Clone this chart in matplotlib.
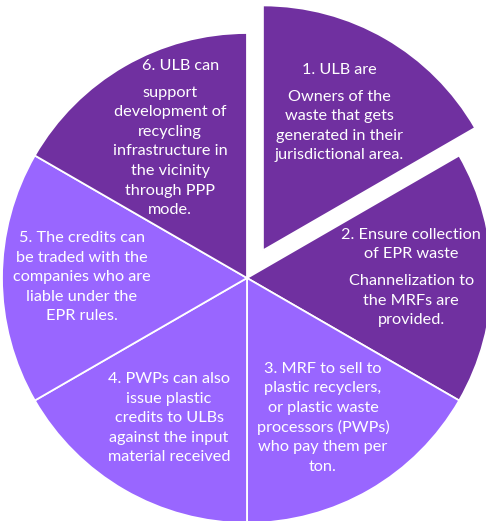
import matplotlib.pyplot as plt

# slice data (six equal steps of the cycle)
values = [1, 1, 1, 1, 1, 1]
colors = ['#7030A0', '#7030A0', '#9966FF', '#9966FF', '#9966FF', '#7030A0']
explode = [0.13, 0, 0, 0, 0, 0]

headers = [
    ['1. ULB are'],
    ['2. Ensure collection', 'of EPR waste'],
    ['3. MRF to sell to', 'plastic recyclers,', 'or plastic waste',
     'processors (PWPs)', 'who pay them per', 'ton.'],
    ['4. PWPs can also', 'issue plastic', 'credits to ULBs',
     'against the input', 'material received'],
    ['5. The credits can', 'be traded with the', 'companies who are',
     'liable under the', 'EPR rules.'],
    ['6. ULB can'],
]
bodies = [
    ['Owners of the', 'waste that gets', 'generated in their',
     'jurisdictional area.'],
    ['Channelization to', 'the MRFs are', 'provided.'],
    [], [], [],
    ['support', 'development of', 'recycling', 'infrastructure in',
     'the vicinity', 'through PPP', 'mode.'],
]

# label anchors (x, y of first line centre, in pie radius units)
anchors = [(0.376, 0.849), (0.67, 0.176), (0.310, -0.37),
           (-0.318, -0.412), (-0.674, 0.163), (-0.269, 0.865)]
body_x = [0.376, 0.67, 0, 0, 0, -0.314]

W, H = 486, 521
R = 245.0
cx, cy = 247, 278

fig = plt.figure(figsize=(W / 100, H / 100), dpi=100)
ax = fig.add_axes([0, 0, 1, 1])
ax.pie(values, colors=colors, explode=explode, startangle=90,
       counterclock=False, radius=1,
       wedgeprops=dict(edgecolor='white', linewidth=1.3))
ax.set_xlim(-cx / R, (W - cx) / R)
ax.set_ylim(-(H - cy) / R, cy / R)
ax.set_aspect('equal', adjustable='box')
ax.axis('off')

pitch = 19.6 / R
gap = 7 / R
font = dict(family='Lato', fontsize=11.7, color='white',
            ha='center', va='center')

for i in range(6):
    x, y = anchors[i]
    for line in headers[i]:
        ax.text(x, y, line, **font)
        y -= pitch
    y -= gap
    for line in bodies[i]:
        ax.text(body_x[i], y, line, **font)
        y -= pitch

fig.savefig('out.png', dpi=100)
